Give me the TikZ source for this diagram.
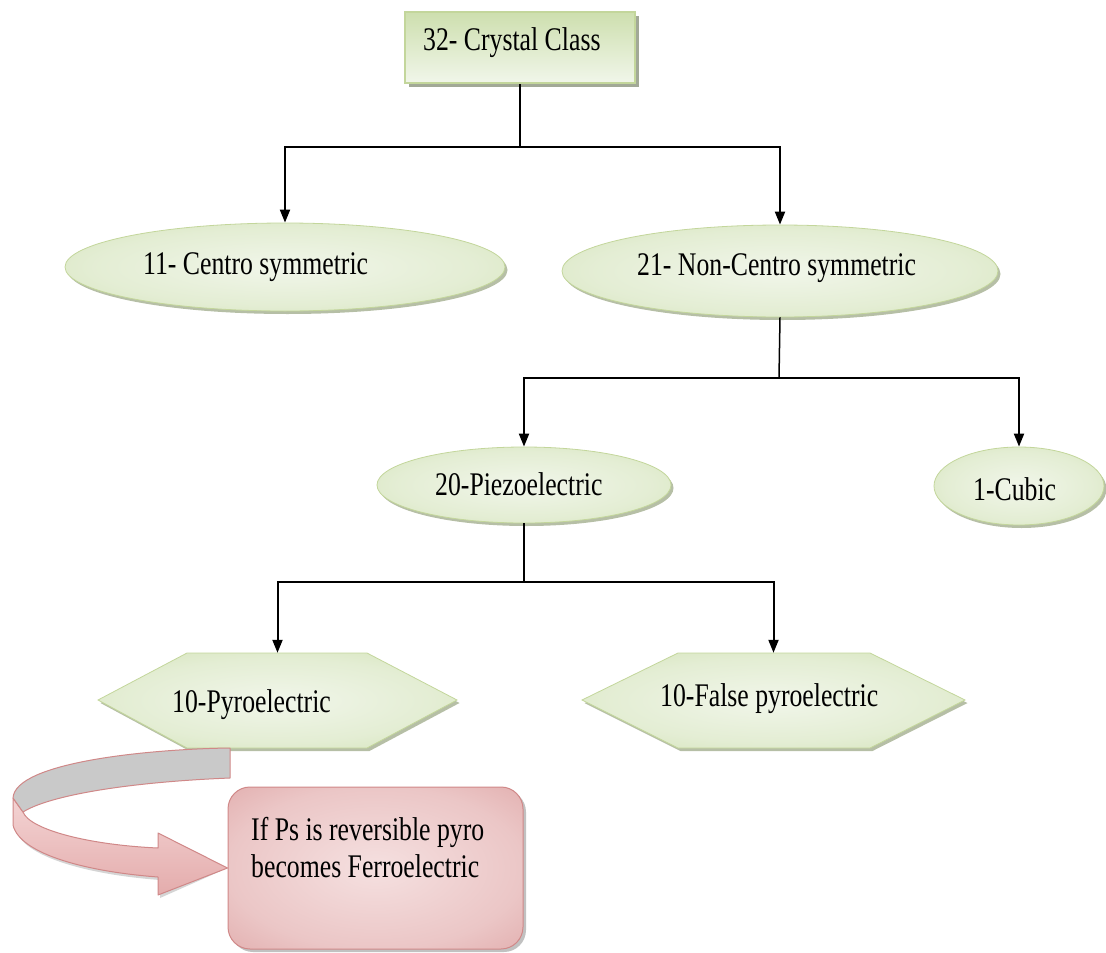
\documentclass[tikz,border=0pt]{standalone}
\usepackage{fontspec}
\setmainfont{Liberation Serif}[FakeStretch=0.78]
\usetikzlibrary{shapes.geometric,arrows.meta,shadows}
\definecolor{gEdge}{HTML}{C3D69B}
\definecolor{gIn}{HTML}{F1F6EA}
\definecolor{gOut}{HTML}{C4D99F}
\definecolor{gShadow}{HTML}{AEB89C}
\definecolor{pIn}{HTML}{F5E0E0}
\definecolor{pOut}{HTML}{D48A8A}
\definecolor{pEdge}{HTML}{D08888}
\definecolor{pLight}{HTML}{F3D3D3}
\definecolor{pMid}{HTML}{E4ACAC}
\definecolor{band}{HTML}{C9C9C9}
\pgfdeclareradialshading{greenball}{\pgfpoint{0bp}{0bp}}{color(0bp)=(gIn); color(22bp)=(gIn!70!gOut); color(50bp)=(gOut); color(72bp)=(gOut)}
\pgfdeclareradialshading{pinkball}{\pgfpoint{0bp}{0bp}}{color(0bp)=(pIn); color(25bp)=(pIn!70!pOut); color(55bp)=(pOut); color(72bp)=(pOut)}
\begin{document}
\begin{tikzpicture}[x=1pt,y=-1pt,
  font=\fontsize{33}{38}\selectfont,
  lbl/.style={inner sep=0pt, anchor=base west, text=black},
  ell/.style={ellipse, inner sep=0pt, draw=gEdge, line width=0.8pt, shade, shading=greenball,
    drop shadow={shadow xshift=2.5pt, shadow yshift=-3pt, fill=gShadow, opacity=0.9}},
  topbox/.style={rectangle, inner sep=0pt, draw=gEdge, line width=2.5pt,
    top color=gOut!80!gIn, bottom color=gIn,
    drop shadow={shadow xshift=4pt, shadow yshift=-4pt, fill=gShadow!80!black, opacity=0.8}},
  pbox/.style={rectangle, rounded corners=22pt, inner sep=0pt, draw=pEdge, line width=1pt,
    shade, shading=pinkball,
    drop shadow={shadow xshift=3pt, shadow yshift=-3pt, fill=gray!60, opacity=0.8}},
  hexanchor/.style={rectangle, inner sep=0pt},
  stem/.style={line width=1.5pt, black},
  arr/.style={line width=2pt, black, -{Triangle[width=10pt,length=13pt]}}
]
\useasboundingbox (0,0) rectangle (1106,953);

% ---------- shapes ----------
\node[topbox, minimum width=230pt, minimum height=71pt] (top) at (520,47.5) {};
\node[ell, minimum width=440pt, minimum height=88pt] (e1) at (285,267) {};
\node[ell, minimum width=436pt, minimum height=92pt] (e2) at (780,271) {};
\node[ell, minimum width=294pt, minimum height=76pt] (e3) at (524,485) {};
\node[ell, minimum width=170pt, minimum height=78pt] (e4) at (1019,486) {};

% hexagon 1
\fill[gShadow, opacity=0.9, shift={(2.5,3)}] (98,700) -- (187,653) -- (367,653) -- (457,700) -- (367,748) -- (187,748) -- cycle;
\shade[shading=greenball, draw=gEdge, line width=0.8pt] (98,700) -- (187,653) -- (367,653) -- (457,700) -- (367,748) -- (187,748) -- cycle;
\node[hexanchor, minimum width=359pt, minimum height=95pt] (h1) at (277.5,700.5) {};
% hexagon 2
\fill[gShadow, opacity=0.9, shift={(2.5,3)}] (582,700) -- (678,653) -- (870,653) -- (965,700) -- (870,748) -- (678,748) -- cycle;
\shade[shading=greenball, draw=gEdge, line width=0.8pt] (582,700) -- (678,653) -- (870,653) -- (965,700) -- (870,748) -- (678,748) -- cycle;
\node[hexanchor, minimum width=383pt, minimum height=95pt] (h2) at (773.5,700.5) {};

% note box
\node[pbox, minimum width=295pt, minimum height=162pt] (note) at (375.5,868) {};

% curved ribbon arrow
\fill[gray!55, opacity=0.6, shift={(2,3)}]
  (13,798) -- (13,825) .. controls (20,855) and (90,872) .. (158,877) -- (158,895) -- (note.west)
  -- (158,833) -- (158,848) .. controls (90,845) and (30,830) .. (23,812) -- cycle;
\shade[top color=pLight, bottom color=pMid, draw=pEdge, line width=1pt, line join=round]
  (13,798) -- (13,825) .. controls (20,855) and (90,872) .. (158,877) -- (158,895) -- (note.west)
  -- (158,833) -- (158,848) .. controls (90,845) and (30,830) .. (23,812) -- cycle;
\fill[band, draw=pEdge, line width=1pt, line join=round]
  (230,748) .. controls (150,749) and (15,762) .. (13,798) -- (23,812)
  .. controls (50,795) and (130,782) .. (230,778) -- cycle;

% ---------- texts ----------
\node[lbl] (ttop) at (423,50) {32- Crystal Class};
\node[lbl] (t1) at (143,274) {11- Centro symmetric};
\node[lbl] (t2) at (637,275) {21- Non-Centro symmetric};
\node[lbl] (t3) at (435,495) {20-Piezoelectric};
\node[lbl] (t4) at (973,500) {1-Cubic};
\node[lbl] (t5) at (172,712) {10-Pyroelectric};
\node[lbl] (t6) at (660,706) {10-False pyroelectric};
\node[lbl] (t7) at (251,840) {If Ps is reversible pyro};
\node[lbl] (t8) at (251,877) {becomes Ferroelectric};

% ---------- connectors ----------
\coordinate (b1) at (520,147);
\coordinate (b2) at (779,378);
\coordinate (b3) at (524,582);
\draw[stem] (top.south) -- (b1);
\draw[stem] (e1.north |- b1) -- (e2.north |- b1);
\draw[arr] (b1) -| (e1.north);
\draw[arr] (b1) -| (e2.north);
\draw[stem] (e2.south) -- (b2);
\draw[stem] (e3.north |- b2) -- (e4.north |- b2);
\draw[arr] (b2) -| (e3.north);
\draw[arr] (b2) -| (e4.north);
\draw[stem] (e3.south) -- (b3);
\draw[stem] (h1.north |- b3) -- (h2.north |- b3);
\draw[arr] (b3) -| (h1.north);
\draw[arr] (b3) -| (h2.north);
\end{tikzpicture}
\end{document}
